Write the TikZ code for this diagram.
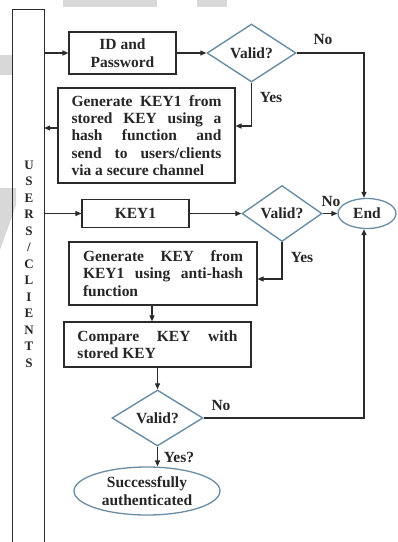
\documentclass[tikz,border=0pt]{standalone}
\usepackage{fontspec}
\setmainfont{Liberation Serif}
\usetikzlibrary{shapes.geometric,arrows.meta}
\definecolor{dline}{HTML}{2B2B2B}
\definecolor{dblue}{HTML}{6A8DA6}
\definecolor{wm}{HTML}{D8D8D8}
\begin{document}
\begin{tikzpicture}[x=1pt,y=-1pt,
 every node/.style={font=\fontsize{15.5}{17.4}\selectfont\bfseries, text=black!85},
 procbox/.style={draw=dline, line width=1.1pt, rectangle, inner sep=0pt},
 decision/.style={draw=dblue, line width=1.4pt, diamond, aspect=2, inner sep=0pt},
 terminal/.style={draw=dblue, line width=1.3pt, ellipse, inner sep=0pt},
 flow/.style={draw=dline, line width=1.2pt, -{Triangle[length=6pt,width=5pt]}},
 plain/.style={draw=dline, line width=1.1pt},
 lbl/.style={inner sep=0pt}
]
\fill[white] (0,0) rectangle (398,542);
\useasboundingbox (0,0) rectangle (398,542);
% faint watermark shapes
\fill[wm] (63,0) rectangle (157,7);
\fill[wm] (197,0) rectangle (227,7);
\fill[wm] (0,55) rectangle (13,75);
\fill[wm] (0,188) -- (16,188) -- (16,205) -- (0,250) -- cycle;

% users / clients column
\node[minimum width=31pt, minimum height=532pt, inner sep=0pt] (users) at (28.5,276) {};
\draw[plain] (users.south west) -- (users.north west) -- (users.north east) -- (users.south east);
\node[font=\fontsize{13}{16.5}\selectfont\bfseries, align=center, inner sep=0pt] (ulabel) at (29,264)
 {U\\S\\E\\R\\S\\/\\C\\L\\I\\E\\N\\T\\S};

% process boxes
\node[procbox, minimum width=107pt, minimum height=42pt, align=center] (idbox) at (122.5,53) {ID and\\Password};
\node[procbox, minimum width=177pt, minimum height=95pt, align=left] (gen1) at (146.5,135.5)
 {\makebox[150pt][s]{Generate KEY1 from}\\
  \makebox[150pt][s]{stored KEY using a}\\
  \makebox[150pt][s]{hash function and}\\
  \makebox[150pt][s]{send to users/clients}\\
  via a secure channel};
\node[procbox, minimum width=107pt, minimum height=28pt] (key1) at (135.5,213.5) {KEY1};
\node[procbox, minimum width=188pt, minimum height=63pt, align=left] (gen2) at (163,273.5)
 {\makebox[160pt][s]{Generate KEY from}\\
  \makebox[160pt][s]{KEY1 using anti-hash}\\
  function};
\node[procbox, minimum width=187pt, minimum height=45pt, align=left] (cmp) at (157.5,344.5)
 {\makebox[160pt][s]{Compare KEY with}\\
  stored KEY};

% decisions and terminals
\node[decision, minimum width=89pt, minimum height=58pt] (d1) at (251.5,53) {Valid?};
\node[decision, minimum width=80pt, minimum height=56pt] (d2) at (282,213.5) {Valid?};
\node[decision, minimum width=91pt, minimum height=56pt] (d3) at (157.5,418) {Valid?};
\node[terminal, minimum width=58pt, minimum height=30pt] (end) at (367,213.5) {End};
\node[terminal, minimum width=146pt, minimum height=48pt, align=center] (succ) at (147,491) {Successfully\\authenticated};

% connectors
\draw[flow] (users.east |- idbox.west) -- (idbox.west);
\draw[flow] (idbox.east) -- (d1.west);
\draw[flow] (d1.east) -| ([xshift=-3pt]end.north);
\draw[flow] (d1.south) |- ([yshift=9.5pt]gen1.east);
\coordinate (g1w) at ([yshift=7.5pt]gen1.west);
\draw[flow] (g1w) -- (users.east |- g1w);
\draw[flow] (users.east |- key1.west) -- (key1.west);
\draw[flow] (key1.east) -- (d2.west);
\draw[flow] (d2.east) -- (end.west);
\draw[flow] (d2.south) |- ([yshift=-5.5pt]gen2.east);
\coordinate (g2s) at ([xshift=-11pt]gen2.south);
\draw[flow] (g2s) -- (g2s |- cmp.north);
\draw[flow] (cmp.south) -- (d3.north);
\draw[flow] (d3.east) -| ([xshift=-3pt]end.south);
\draw[flow] (d3.south) -- (d3.south |- succ.north);

% labels
\node[lbl] (no1) at (323,39) {No};
\node[lbl] (yes1) at (271,97) {Yes};
\node[lbl] (no2) at (331,201) {No};
\node[lbl] (yes2) at (302,257) {Yes};
\node[lbl] (no3) at (221,405) {No};
\node[lbl] (yes3) at (179,457) {Yes?};
\end{tikzpicture}
\end{document}
